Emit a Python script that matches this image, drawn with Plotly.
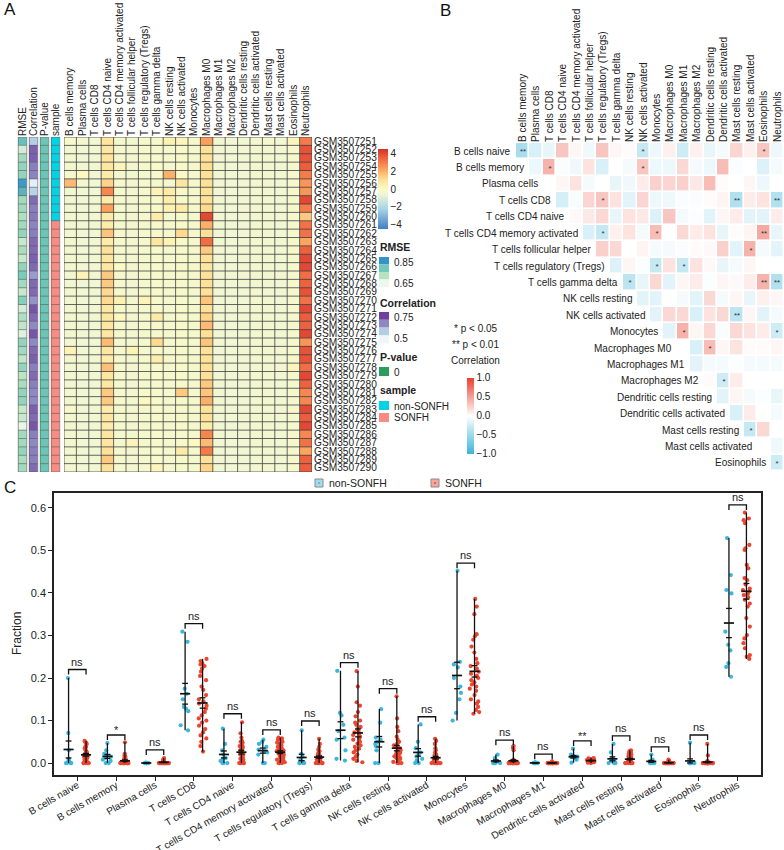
import numpy as np
import plotly.graph_objects as go

W, H = 784, 850
FONT = "Liberation Sans, Arial, sans-serif"


def fx(p):
    return p / W


def fy(p):
    return 1 - p / H


# ---------------- DATA ----------------
heat_cols = ["B cells memory", "Plasma cells", "T cells CD8", "T cells CD4 naive",
             "T cells CD4 memory activated", "T cells follicular helper",
             "T cells regulatory (Tregs)", "T cells gamma delta", "NK cells resting",
             "NK cells activated", "Monocytes", "Macrophages M0", "Macrophages M1",
             "Macrophages M2", "Dendritic cells resting", "Dendritic cells activated",
             "Mast cells resting", "Mast cells activated", "Eosinophils", "Neutrophils"]

samples = ["GSM3507251", "GSM3507252", "GSM3507253", "GSM3507254", "GSM3507255",
           "GSM3507256", "GSM3507257", "GSM3507258", "GSM3507259", "GSM3507260",
           "GSM3507261", "GSM3507262", "GSM3507263", "GSM3507264", "GSM3507265",
           "GSM3507266", "GSM3507267", "GSM3507268", "GSM3507269", "GSM3507270",
           "GSM3507271", "GSM3507272", "GSM3507273", "GSM3507274", "GSM3507275",
           "GSM3507276", "GSM3507277", "GSM3507278", "GSM3507279", "GSM3507280",
           "GSM3507281", "GSM3507282", "GSM3507283", "GSM3507284", "GSM3507285",
           "GSM3507286", "GSM3507287", "GSM3507288", "GSM3507289", "GSM3507290"]

heat_vals = [
    [-0.2, -0.4, -0.5, 0.9, -0.3, -0.4, -0.3, -0.3, 0.4, 0.2, -0.3, 2.3, -0.5, -0.5, -0.5, -0.4, -0.3, -0.5, 0.2, 3.0],
    [-0.4, -0.5, -0.5, 0.8, -0.3, -0.4, -0.3, -0.3, -0.3, -0.2, -0.3, 1.0, -0.5, -0.5, -0.5, -0.4, -0.4, -0.5, -0.3, 3.8],
    [-0.4, -0.5, -0.5, 0.9, -0.3, -0.4, -0.3, -0.2, -0.3, -0.2, -0.3, 1.0, -0.5, -0.5, -0.5, -0.4, -0.4, -0.5, -0.3, 3.8],
    [-0.4, -0.5, -0.5, 0.8, 0.2, -0.4, -0.3, -0.2, -0.3, -0.2, -0.3, 1.1, -0.5, -0.5, -0.5, -0.4, -0.4, -0.5, -0.3, 3.6],
    [-0.3, 0.1, -0.5, 0.6, -0.3, -0.4, -0.3, -0.2, 2.0, -0.1, -0.3, 1.0, -0.5, -0.5, -0.5, -0.4, -0.4, -0.5, -0.3, 3.0],
    [1.8, -0.4, -0.5, 1.3, -0.3, -0.4, -0.3, -0.3, -0.3, 0.8, -0.3, 1.0, -0.5, -0.5, -0.5, -0.4, -0.4, -0.5, -0.3, 2.5],
    [-0.4, -0.5, -0.5, 2.8, -0.3, -0.4, -0.3, 0.3, 0.6, -0.2, -0.3, 1.0, -0.5, -0.5, -0.5, -0.4, -0.4, -0.5, -0.3, 2.5],
    [-0.4, -0.5, -0.5, 0.6, -0.3, -0.4, -0.3, -0.2, 0.5, -0.2, -0.3, 1.0, -0.5, -0.5, -0.5, -0.4, -0.4, -0.5, -0.3, 4.0],
    [-0.4, -0.5, -0.5, 2.3, -0.3, -0.4, -0.3, -0.2, 0.4, 0.6, -0.3, 1.2, -0.5, -0.5, -0.5, -0.4, -0.4, -0.5, -0.3, 3.0],
    [-0.4, -0.5, -0.5, 0.6, -0.3, -0.4, -0.3, 0.6, -0.3, -0.2, -0.3, 4.0, -0.5, -0.5, -0.5, -0.4, -0.4, -0.5, -0.3, 1.5],
    [-0.4, -0.5, -0.5, 0.6, -0.3, -0.4, -0.3, -0.2, -0.3, -0.2, -0.3, 2.0, -0.5, -0.5, -0.5, -0.4, -0.4, -0.5, -0.3, 3.2],
    [-0.4, -0.5, -0.5, 1.6, -0.3, -0.4, -0.3, -0.2, -0.3, 1.2, -0.3, 1.0, -0.5, -0.5, -0.5, -0.4, -0.4, -0.5, -0.3, 3.2],
    [-0.4, -0.5, -0.5, 0.6, -0.3, -0.4, -0.3, 0.8, 0.3, -0.2, -0.3, 3.3, -0.5, -0.5, -0.5, -0.4, -0.4, -0.5, -0.3, 2.2],
    [-0.4, -0.5, -0.5, 1.0, -0.3, -0.4, -0.3, -0.2, -0.3, -0.2, -0.3, 1.5, -0.5, -0.5, -0.5, -0.4, -0.4, -0.5, -0.3, 3.5],
    [-0.4, -0.5, -0.5, 0.8, -0.3, -0.4, -0.3, -0.2, -0.3, -0.2, -0.3, 1.0, -0.5, -0.5, -0.5, -0.4, -0.4, -0.5, -0.3, 4.0],
    [-0.4, -0.5, -0.5, 0.8, 0.0, -0.4, -0.3, -0.2, -0.3, -0.2, -0.3, 0.8, -0.5, -0.5, -0.5, -0.4, -0.4, -0.5, -0.3, 4.0],
    [-0.4, 0.3, -0.5, 1.5, -0.3, -0.4, -0.3, -0.2, -0.3, -0.2, -0.3, 1.0, -0.5, -0.5, -0.5, -0.4, -0.4, -0.5, -0.3, 3.3],
    [-0.4, -0.5, -0.5, 1.5, -0.3, -0.4, -0.3, -0.2, -0.3, -0.2, -0.3, 1.0, -0.5, -0.5, -0.5, -0.4, -0.4, -0.5, -0.3, 3.5],
    [-0.4, -0.5, -0.5, 1.2, -0.3, -0.4, -0.3, -0.2, -0.3, -0.2, -0.3, 1.0, -0.5, -0.5, -0.5, -0.4, -0.4, -0.5, -0.3, 3.8],
    [-0.4, -0.5, -0.5, 1.2, 0.4, -0.4, 0.3, -0.2, -0.3, -0.2, -0.3, 1.6, -0.5, -0.5, -0.5, -0.4, -0.4, -0.5, -0.3, 3.2],
    [-0.4, -0.5, -0.5, 0.8, -0.3, -0.4, -0.3, -0.2, -0.3, -0.2, -0.3, 1.0, -0.5, -0.5, -0.5, -0.4, -0.4, -0.5, -0.3, 4.0],
    [-0.4, -0.5, -0.5, 0.8, 0.1, -0.4, -0.3, 0.6, -0.3, -0.2, -0.3, 1.3, -0.5, -0.5, -0.5, -0.4, -0.4, -0.5, -0.3, 3.6],
    [-0.4, -0.5, -0.5, 0.8, -0.3, -0.4, -0.3, -0.2, -0.3, -0.2, -0.3, 1.8, -0.5, -0.5, -0.5, -0.4, -0.4, -0.5, -0.3, 3.5],
    [-0.4, -0.5, -0.5, 0.8, -0.3, -0.4, -0.3, -0.2, -0.3, -0.2, -0.3, 1.0, -0.5, -0.5, -0.5, -0.4, -0.4, -0.5, -0.3, 4.0],
    [-0.4, -0.5, -0.5, 1.8, -0.3, -0.4, -0.3, 1.2, -0.3, -0.2, -0.3, 1.6, -0.5, -0.5, -0.5, -0.4, -0.4, -0.5, -0.3, 2.5],
    [0.3, -0.5, -0.5, 0.8, -0.3, 0.3, -0.3, -0.2, -0.3, -0.2, -0.3, 1.0, -0.5, -0.5, -0.5, -0.4, -0.4, -0.5, -0.3, 3.8],
    [-0.4, -0.5, -0.5, 0.6, -0.3, -0.4, -0.3, 0.5, -0.3, -0.2, -0.3, 1.0, -0.5, -0.5, -0.5, -0.4, -0.4, -0.5, -0.3, 3.8],
    [-0.4, -0.5, -0.5, 1.7, -0.3, -0.4, -0.3, -0.2, -0.3, -0.2, -0.3, 1.0, -0.5, -0.5, -0.5, -0.4, -0.4, -0.5, 0.2, 3.3],
    [-0.4, -0.5, -0.5, 0.8, -0.3, -0.4, -0.3, -0.2, -0.3, -0.2, -0.3, 1.0, -0.5, -0.5, -0.5, -0.4, -0.4, -0.5, -0.3, 4.0],
    [-0.4, -0.5, -0.5, 0.8, -0.3, -0.4, -0.3, -0.2, -0.3, -0.2, -0.3, 1.5, -0.5, -0.5, -0.5, -0.4, -0.4, -0.5, -0.3, 3.5],
    [-0.4, -0.5, -0.5, 1.5, -0.3, -0.4, -0.3, -0.2, -0.3, 1.5, -0.3, 1.6, -0.5, -0.5, -0.5, -0.4, -0.4, -0.5, -0.3, 2.8],
    [-0.4, -0.5, -0.5, 1.5, -0.3, -0.4, 0.1, -0.2, -0.3, -0.2, -0.3, 2.0, -0.5, -0.5, -0.5, -0.4, -0.4, -0.5, -0.3, 2.8],
    [-0.2, -0.5, -0.5, 0.6, -0.3, -0.4, -0.3, -0.2, -0.3, -0.2, -0.3, 1.0, -0.5, -0.5, -0.5, -0.4, -0.4, -0.5, -0.3, 4.0],
    [-0.4, -0.5, -0.5, 0.8, -0.3, -0.4, -0.3, -0.2, -0.3, -0.2, -0.3, 1.0, -0.5, -0.5, -0.5, -0.4, -0.4, -0.5, -0.3, 3.6],
    [-0.4, -0.5, -0.5, 0.6, -0.3, -0.4, -0.3, -0.2, -0.3, -0.2, -0.3, 0.6, -0.5, -0.5, -0.5, -0.4, -0.4, -0.5, -0.3, 4.0],
    [-0.4, -0.5, -0.5, 0.8, -0.3, -0.4, -0.3, -0.2, -0.3, -0.2, -0.3, 2.8, -0.5, -0.5, -0.5, -0.4, -0.4, -0.5, -0.3, 2.8],
    [-0.4, -0.5, -0.5, 0.8, -0.3, 0.2, -0.3, -0.2, -0.3, -0.2, 0.1, 1.8, -0.5, -0.5, -0.5, -0.4, -0.4, -0.5, -0.3, 3.2],
    [-0.4, -0.5, -0.5, 1.0, -0.3, -0.4, -0.3, -0.2, -0.3, 0.6, -0.3, 3.0, -0.5, -0.5, -0.5, -0.4, -0.4, -0.5, -0.3, 2.2],
    [-0.4, -0.5, -0.5, 1.5, -0.3, -0.4, -0.3, -0.2, -0.3, -0.2, -0.3, 1.0, -0.5, -0.5, -0.5, -0.4, -0.4, -0.5, -0.3, 3.5],
    [-0.4, -0.5, -0.5, 1.0, -0.3, -0.4, -0.3, 0.2, -0.3, -0.2, -0.3, 1.3, -0.5, -0.5, -0.5, -0.4, -0.4, -0.5, -0.3, 3.6],
]

rmse_vals = [0.78, 0.60, 0.68, 0.70, 0.70, 0.90, 0.82, 0.68, 0.68, 0.66,
             0.68, 0.70, 0.62, 0.67, 0.62, 0.70, 0.74, 0.68, 0.62, 0.72,
             0.60, 0.66, 0.63, 0.58, 0.70, 0.68, 0.63, 0.70, 0.64, 0.67,
             0.70, 0.70, 0.62, 0.62, 0.56, 0.68, 0.68, 0.70, 0.67, 0.68]
fit_corr_vals = [0.60, 0.82, 0.82, 0.76, 0.75, 0.45, 0.58, 0.80, 0.76, 0.77,
                 0.75, 0.76, 0.80, 0.80, 0.82, 0.80, 0.70, 0.80, 0.80, 0.72,
                 0.84, 0.80, 0.74, 0.84, 0.74, 0.80, 0.82, 0.76, 0.80, 0.76,
                 0.74, 0.74, 0.82, 0.80, 0.84, 0.76, 0.74, 0.76, 0.76, 0.80]
pvalue_vals = [0, 0, 0, 0, 0, 0, 0, 0, 0, 0, 0, 0, 0, 0, 0, 0, 0, 0, 0, 0,
               0, 0, 0, 0, 0, 0, 0, 0, 0, 0, 0, 0, 0, 0, 0, 0, 0, 0, 0, 0]
sample_group = ["non-SONFH"] * 10 + ["SONFH"] * 30
anno_cols = ["RMSE", "Correlation", "P-value", "sample"]

# Panel B: correlation among immune cells (upper triangle, row i vs columns i..19)
corr_rows = ["B cells naive", "B cells memory", "Plasma cells", "T cells CD8",
             "T cells CD4 naive", "T cells CD4 memory activated", "T cells follicular helper",
             "T cells regulatory (Tregs)", "T cells gamma delta", "NK cells resting",
             "NK cells activated", "Monocytes", "Macrophages M0", "Macrophages M1",
             "Macrophages M2", "Dendritic cells resting", "Dendritic cells activated",
             "Mast cells resting", "Mast cells activated", "Eosinophils"]
corr_cols = heat_cols
corr_vals = [
    [-0.45, -0.2, -0.12, 0.3, 0.05, -0.08, 0.3, 0.05, 0.02, -0.3, -0.1, 0.08, -0.25, 0.08, -0.12, -0.05, 0.22, 0.08, 0.3, -0.1],
    [-0.1, 0.4, -0.03, -0.08, 0.15, -0.2, 0.0, -0.05, 0.3, -0.1, -0.1, 0.2, -0.05, -0.1, 0.35, -0.03, 0.0, -0.18, -0.05],
    [0.0, 0.05, 0.15, -0.05, 0.0, -0.12, -0.08, 0.1, 0.25, 0.22, 0.25, 0.12, 0.35, 0.02, 0.0, 0.05, -0.1, 0.0],
    [-0.22, -0.04, 0.22, 0.3, 0.15, -0.15, 0.22, -0.1, -0.08, -0.03, -0.03, 0.02, 0.06, -0.4, 0.1, 0.15, -0.4],
    [0.03, 0.12, 0.2, -0.12, 0.15, 0.12, -0.18, 0.3, -0.05, -0.02, -0.15, 0.05, 0.1, -0.15, -0.15, 0.1],
    [-0.2, -0.3, 0.08, 0.15, -0.05, 0.35, 0.0, 0.2, 0.1, 0.15, -0.12, 0.02, 0.06, 0.45, -0.12],
    [0.25, 0.2, 0.0, 0.06, -0.05, -0.05, -0.03, 0.02, 0.03, 0.25, -0.15, 0.4, -0.05, -0.15],
    [-0.18, 0.05, -0.02, -0.3, 0.15, -0.3, 0.15, 0.03, -0.12, -0.05, 0.05, 0.0, 0.0],
    [-0.35, -0.12, 0.2, -0.15, 0.05, 0.1, -0.02, 0.05, 0.03, 0.1, 0.4, -0.4],
    [-0.15, -0.15, 0.0, -0.05, -0.15, 0.2, -0.05, 0.05, -0.12, 0.08, 0.05],
    [-0.15, 0.2, 0.2, -0.2, 0.15, 0.2, -0.35, 0.05, -0.15, -0.05],
    [-0.15, 0.4, 0.05, 0.2, -0.03, 0.2, 0.15, 0.1, -0.25],
    [0.0, -0.2, 0.35, 0.05, 0.15, 0.02, 0.02, 0.05],
    [-0.15, -0.05, -0.05, -0.02, -0.05, -0.05, -0.05],
    [0.02, -0.25, 0.1, 0.0, 0.0, 0.0],
    [-0.15, 0.05, -0.05, -0.02, -0.12],
    [-0.2, 0.1, 0.0, -0.05],
    [-0.3, 0.2, 0.0],
    [0.0, -0.08],
    [-0.25],
]
# (row index, column index, significance label)
corr_stars = [(0, 0, "**"), (0, 9, "*"), (0, 18, "*"), (1, 2, "*"), (1, 9, "*"),
              (3, 6, "*"), (3, 16, "**"), (3, 19, "**"), (5, 6, "*"), (5, 10, "*"),
              (5, 18, "**"), (6, 17, "*"), (7, 10, "*"), (7, 12, "*"), (8, 8, "*"),
              (8, 18, "**"), (8, 19, "**"), (10, 16, "**"), (11, 12, "*"), (11, 19, "*"),
              (12, 14, "*"), (14, 15, "*"), (17, 17, "*"), (19, 19, "*")]

# Panel C: fractions per cell type
c_cats = ["B cells naive", "B cells memory", "Plasma cells", "T cells CD8", "T cells CD4 naive",
          "T cells CD4 memory activated", "T cells regulatory (Tregs)", "T cells gamma delta",
          "NK cells resting", "NK cells activated", "Monocytes", "Macrophages M0",
          "Macrophages M1", "Dendritic cells activated", "Mast cells resting",
          "Mast cells activated", "Eosinophils", "Neutrophils"]

non_sonfh = [
    [0.200, 0.071, 0.030, 0.010, 0.005, 0.0, 0.0, 0.0, 0.0, 0.004],
    [0.047, 0.030, 0.022, 0.018, 0.015, 0.012, 0.008, 0.005, 0.0, 0.0],
    [0.001, 0.0005, 0.0, 0.0, 0.0, 0.0, 0.0, 0.0, 0.0, 0.0],
    [0.309, 0.285, 0.175, 0.163, 0.150, 0.132, 0.128, 0.122, 0.089, 0.077],
    [0.081, 0.045, 0.030, 0.020, 0.012, 0.010, 0.005, 0.0, 0.0, 0.0],
    [0.055, 0.050, 0.045, 0.038, 0.032, 0.028, 0.025, 0.020, 0.0, 0.0],
    [0.077, 0.022, 0.015, 0.010, 0.005, 0.003, 0.0, 0.0, 0.0, 0.0],
    [0.217, 0.118, 0.112, 0.090, 0.075, 0.060, 0.055, 0.030, 0.010, 0.006],
    [0.127, 0.095, 0.060, 0.055, 0.050, 0.045, 0.040, 0.030, 0.0, 0.0],
    [0.091, 0.050, 0.035, 0.025, 0.020, 0.015, 0.010, 0.005, 0.0, 0.0],
    [0.452, 0.238, 0.232, 0.225, 0.200, 0.180, 0.165, 0.150, 0.118, 0.100],
    [0.020, 0.012, 0.008, 0.006, 0.004, 0.0, 0.0, 0.0, 0.0, 0.0],
    [0.002, 0.001, 0.001, 0.0, 0.0, 0.0, 0.0, 0.0, 0.0, 0.0],
    [0.034, 0.020, 0.017, 0.016, 0.015, 0.014, 0.013, 0.012, 0.008, 0.001],
    [0.045, 0.025, 0.012, 0.008, 0.005, 0.004, 0.001, 0.0, 0.0, 0.0],
    [0.020, 0.008, 0.006, 0.004, 0.002, 0.0, 0.0, 0.0, 0.0, 0.0],
    [0.048, 0.003, 0.0, 0.0, 0.0, 0.0, 0.0, 0.0, 0.0, 0.0],
    [0.529, 0.442, 0.407, 0.399, 0.309, 0.278, 0.265, 0.235, 0.226, 0.203],
]

sonfh = [
    [0.052, 0.050, 0.048, 0.045, 0.040, 0.038, 0.035, 0.030, 0.028, 0.025, 0.022, 0.020, 0.018, 0.015, 0.013,
     0.012, 0.010, 0.008, 0.006, 0.005, 0.003, 0.0, 0.0, 0.0, 0.0, 0.0, 0.0, 0.020, 0.025, 0.016],
    [0.049, 0.022, 0.018, 0.015, 0.012, 0.010, 0.008, 0.007, 0.006, 0.005, 0.004, 0.003, 0.002, 0.002, 0.001,
     0.0, 0.0, 0.0, 0.0, 0.0, 0.0, 0.0, 0.0, 0.0, 0.0, 0.0, 0.0, 0.0, 0.0, 0.0],
    [0.012, 0.010, 0.009, 0.007, 0.005, 0.004, 0.003, 0.002, 0.002, 0.001, 0.001, 0.0, 0.0, 0.0, 0.0,
     0.0, 0.0, 0.0, 0.0, 0.0, 0.0, 0.0, 0.0, 0.0, 0.0, 0.0, 0.0, 0.0, 0.0, 0.0],
    [0.245, 0.240, 0.235, 0.232, 0.228, 0.222, 0.215, 0.205, 0.195, 0.180, 0.172, 0.160, 0.150, 0.145, 0.140,
     0.135, 0.128, 0.120, 0.112, 0.105, 0.100, 0.095, 0.088, 0.080, 0.072, 0.065, 0.058, 0.050, 0.040, 0.027],
    [0.096, 0.070, 0.060, 0.052, 0.050, 0.048, 0.045, 0.040, 0.038, 0.035, 0.032, 0.030, 0.028, 0.025, 0.022,
     0.020, 0.018, 0.015, 0.012, 0.010, 0.008, 0.006, 0.005, 0.004, 0.002, 0.0, 0.0, 0.0, 0.0, 0.0],
    [0.060, 0.058, 0.055, 0.050, 0.048, 0.045, 0.042, 0.040, 0.038, 0.035, 0.033, 0.030, 0.028, 0.027, 0.025,
     0.024, 0.022, 0.020, 0.018, 0.016, 0.014, 0.012, 0.010, 0.008, 0.006, 0.004, 0.002, 0.0, 0.0, 0.0],
    [0.057, 0.045, 0.038, 0.032, 0.028, 0.025, 0.022, 0.020, 0.018, 0.016, 0.015, 0.014, 0.013, 0.012, 0.011,
     0.010, 0.009, 0.008, 0.007, 0.006, 0.005, 0.004, 0.003, 0.002, 0.001, 0.0, 0.0, 0.0, 0.0, 0.0],
    [0.216, 0.180, 0.143, 0.135, 0.120, 0.110, 0.100, 0.095, 0.090, 0.085, 0.080, 0.076, 0.072, 0.070, 0.066,
     0.062, 0.058, 0.055, 0.050, 0.046, 0.042, 0.038, 0.034, 0.030, 0.025, 0.020, 0.015, 0.010, 0.005, 0.002],
    [0.157, 0.105, 0.085, 0.075, 0.062, 0.055, 0.050, 0.045, 0.042, 0.040, 0.038, 0.035, 0.032, 0.030, 0.028,
     0.026, 0.024, 0.022, 0.020, 0.018, 0.016, 0.014, 0.012, 0.010, 0.008, 0.005, 0.003, 0.0, 0.0, 0.0],
    [0.057, 0.052, 0.045, 0.035, 0.030, 0.025, 0.020, 0.018, 0.016, 0.014, 0.012, 0.010, 0.009, 0.008, 0.007,
     0.006, 0.005, 0.004, 0.003, 0.002, 0.001, 0.0, 0.0, 0.0, 0.0, 0.0, 0.0, 0.0, 0.0, 0.0],
    [0.386, 0.368, 0.350, 0.303, 0.298, 0.290, 0.274, 0.260, 0.245, 0.235, 0.228, 0.222, 0.215, 0.210, 0.205,
     0.200, 0.195, 0.190, 0.185, 0.180, 0.175, 0.170, 0.160, 0.150, 0.145, 0.140, 0.132, 0.125, 0.120, 0.116],
    [0.040, 0.038, 0.035, 0.030, 0.008, 0.005, 0.004, 0.003, 0.002, 0.001, 0.0, 0.0, 0.0, 0.0, 0.0,
     0.0, 0.0, 0.0, 0.0, 0.0, 0.0, 0.0, 0.0, 0.0, 0.0, 0.0, 0.0, 0.0, 0.0, 0.0],
    [0.004, 0.003, 0.002, 0.001, 0.001, 0.0, 0.0, 0.0, 0.0, 0.0, 0.0, 0.0, 0.0, 0.0, 0.0,
     0.0, 0.0, 0.0, 0.0, 0.0, 0.0, 0.0, 0.0, 0.0, 0.0, 0.0, 0.0, 0.0, 0.0, 0.0],
    [0.012, 0.011, 0.010, 0.010, 0.009, 0.009, 0.008, 0.008, 0.008, 0.007, 0.007, 0.007, 0.006, 0.006, 0.006,
     0.006, 0.005, 0.005, 0.005, 0.005, 0.004, 0.004, 0.004, 0.003, 0.003, 0.003, 0.002, 0.002, 0.001, 0.0],
    [0.030, 0.028, 0.025, 0.022, 0.020, 0.018, 0.016, 0.015, 0.014, 0.013, 0.012, 0.011, 0.010, 0.009, 0.008,
     0.007, 0.006, 0.005, 0.004, 0.003, 0.002, 0.001, 0.0, 0.0, 0.0, 0.0, 0.0, 0.0, 0.0, 0.0],
    [0.008, 0.006, 0.004, 0.003, 0.002, 0.001, 0.0, 0.0, 0.0, 0.0, 0.0, 0.0, 0.0, 0.0, 0.0,
     0.0, 0.0, 0.0, 0.0, 0.0, 0.0, 0.0, 0.0, 0.0, 0.0, 0.0, 0.0, 0.0, 0.0, 0.0],
    [0.045, 0.018, 0.005, 0.002, 0.001, 0.0, 0.0, 0.0, 0.0, 0.0, 0.0, 0.0, 0.0, 0.0, 0.0,
     0.0, 0.0, 0.0, 0.0, 0.0, 0.0, 0.0, 0.0, 0.0, 0.0, 0.0, 0.0, 0.0, 0.0, 0.0],
    [0.589, 0.575, 0.571, 0.564, 0.513, 0.505, 0.501, 0.466, 0.458, 0.435, 0.430, 0.420, 0.410, 0.407, 0.404,
     0.399, 0.395, 0.390, 0.384, 0.375, 0.368, 0.341, 0.321, 0.301, 0.293, 0.282, 0.270, 0.254, 0.250, 0.245],
]

bracket_y = [0.22, 0.066, 0.031, 0.328, 0.116, 0.078, 0.099, 0.236, 0.175, 0.109,
             0.47, 0.054, 0.021, 0.052, 0.064, 0.038, 0.066, 0.607]
sig_labels = ["ns", "*", "ns", "ns", "ns", "ns", "ns", "ns", "ns", "ns",
              "ns", "ns", "ns", "**", "ns", "ns", "ns", "ns"]

# ---------------- STYLE ----------------
heat_cs = [[0.0, "#3f7fc0"], [0.25, "#a9d3e7"], [0.44, "#f0f6d4"], [0.5, "#fcfac4"],
           [0.62, "#fedf95"], [0.74, "#fca760"], [0.87, "#f26a43"], [1.0, "#d62f27"]]
rmse_cs = [[0.0, "#eef8ea"], [0.27, "#b5e2bf"], [0.54, "#72c9b9"], [1.0, "#3494c8"]]
fitc_cs = [[0.0, "#eef6fb"], [0.4, "#b3cde6"], [0.7, "#8e87c3"], [1.0, "#7040a0"]]
pval_color = "#6cc6b6"
non_color_s, son_color_s = "#00d3e3", "#f98b83"
corr_cs = [[0.0, "#3cb4d8"], [0.5, "#ffffff"], [1.0, "#e8412f"]]
NON_C, SON_C = "#3bb6dd", "#ec4630"
GRID = "#404040"
TXT = "#222"
LBL = 10  # label font size used in panels A and B

fig = go.Figure()

# ---------- Panel A: main heatmap ----------
nR, nC = len(samples), len(heat_cols)
fig.add_trace(go.Heatmap(
    z=heat_vals, x=list(range(nC)), y=list(range(nR)), colorscale=heat_cs,
    zmin=-4.5, zmax=4.5, xaxis="x", yaxis="y", hoverinfo="skip",
    colorbar=dict(x=fx(378), xanchor="left", y=fy(189), yanchor="middle",
                  lenmode="pixels", len=80, thickness=10, xpad=0, ypad=0,
                  outlinewidth=0, ticks="", tickvals=[-4, -2, 0, 2, 4],
                  ticktext=["\u22124", "\u22122", "0", "2", "4"],
                  tickfont=dict(size=LBL, family=FONT, color=TXT))))
gx, gy = [], []
for k in range(nC + 1):
    gx += [k - 0.5, k - 0.5, None]
    gy += [-0.5, nR - 0.5, None]
for r in range(nR + 1):
    gx += [-0.5, nC - 0.5, None]
    gy += [r - 0.5, r - 0.5, None]
fig.add_trace(go.Scatter(x=gx, y=gy, mode="lines", line=dict(color=GRID, width=0.8),
                         xaxis="x", yaxis="y", hoverinfo="skip", showlegend=False))

# annotation columns
sample_code = [0 if g == "non-SONFH" else 1 for g in sample_group]
anno_specs = [
    (rmse_vals, rmse_cs, 0.55, 0.92),
    (fit_corr_vals, fitc_cs, 0.42, 0.88),
    (pvalue_vals, [[0, pval_color], [1, pval_color]], 0, 1),
    (sample_code, [[0, non_color_s], [0.5, non_color_s], [0.5, son_color_s], [1, son_color_s]], 0, 1),
]
for k, (vals, cs, lo, hi) in enumerate(anno_specs):
    fig.add_trace(go.Heatmap(z=[[v] for v in vals], x0=k, dx=1, y=list(range(nR)),
                             colorscale=cs, zmin=lo, zmax=hi, showscale=False, xgap=2.4,
                             xaxis="x2", yaxis="y2", hoverinfo="skip"))
ax, ay = [], []
hw = 0.385
for k in range(4):
    ax += [k - hw, k - hw, None, k + hw, k + hw, None]
    ay += [-0.5, nR - 0.5, None, -0.5, nR - 0.5, None]
    for r in range(nR + 1):
        ax += [k - hw, k + hw, None]
        ay += [r - 0.5, r - 0.5, None]
fig.add_trace(go.Scatter(x=ax, y=ay, mode="lines", line=dict(color="#5a5a5a", width=0.6),
                         xaxis="x2", yaxis="y2", hoverinfo="skip", showlegend=False))

# ---------- Panel B: correlation matrix ----------
nB = len(corr_rows)
zB = [[None] * nB for _ in range(nB)]
tB = [[""] * nB for _ in range(nB)]
for i, row in enumerate(corr_vals):
    for j, v in enumerate(row):
        zB[i][i + j] = v
for (i, j, s) in corr_stars:
    tB[i][j] = s
fig.add_trace(go.Heatmap(
    z=zB, x=list(range(nB)), y=list(range(nB)), text=tB, texttemplate="%{text}",
    textfont=dict(size=8, color="#333", family=FONT),
    colorscale=corr_cs, zmin=-1, zmax=1, xgap=1.6, ygap=1.6, xaxis="x3", yaxis="y3",
    hoverinfo="skip",
    colorbar=dict(x=fx(467), xanchor="left", y=fy(415.5), yanchor="middle",
                  lenmode="pixels", len=76, thickness=7, xpad=0, ypad=0,
                  outlinewidth=0, ticks="", tickvals=[1, 0.5, 0, -0.5, -1],
                  ticktext=["1.0", "0.5", "0.0", "\u22120.5", "\u22121.0"],
                  tickfont=dict(size=LBL, family=FONT, color=TXT))))

# ---------- Panel C: dot plots ----------
xs_n, ys_n, xs_s, ys_s = [], [], [], []
for k in range(len(c_cats)):
    xs_n += [k] * len(non_sonfh[k])
    ys_n += non_sonfh[k]
    xs_s += [k] * len(sonfh[k])
    ys_s += sonfh[k]
for name, xs, ys, col in [("non-SONFH", xs_n, ys_n, NON_C), ("SONFH", xs_s, ys_s, SON_C)]:
    fig.add_trace(go.Box(x=xs, y=ys, name=name, boxpoints="all", jitter=0.75, pointpos=0,
                         line=dict(width=0, color="rgba(0,0,0,0)"), fillcolor="rgba(0,0,0,0)",
                         marker=dict(color=col, size=4.2), whiskerwidth=0,
                         xaxis="x4", yaxis="y4", hoverinfo="y", showlegend=False))

OFF = 0.225
lx, ly, mx_, my_ = [], [], [], []
for k in range(len(c_cats)):
    for arr, off in [(non_sonfh[k], -OFF), (sonfh[k], OFF)]:
        a = np.array(arr)
        xc = k + off
        m = a.mean()
        se = a.std(ddof=1) / np.sqrt(len(a))
        lx += [xc, xc, None]
        ly += [a.min(), a.max(), None]
        lx += [xc - 0.075, xc + 0.075, None, xc - 0.075, xc + 0.075, None]
        ly += [m - se, m - se, None, m + se, m + se, None]
        mx_ += [xc - 0.13, xc + 0.13, None]
        my_ += [m, m, None]
fig.add_trace(go.Scatter(x=lx, y=ly, mode="lines", line=dict(color="#111", width=1.3),
                         xaxis="x4", yaxis="y4", hoverinfo="skip", showlegend=False))
fig.add_trace(go.Scatter(x=mx_, y=my_, mode="lines", line=dict(color="#111", width=1.7),
                         xaxis="x4", yaxis="y4", hoverinfo="skip", showlegend=False))
bx, by = [], []
TK = 0.012
for k, yb in enumerate(bracket_y):
    bx += [k - OFF, k - OFF, k + OFF, k + OFF, None]
    by += [yb - TK, yb, yb, yb - TK, None]
fig.add_trace(go.Scatter(x=bx, y=by, mode="lines", line=dict(color="#111", width=1.3),
                         xaxis="x4", yaxis="y4", hoverinfo="skip", showlegend=False))

annotations = []
for k, (yb, s) in enumerate(zip(bracket_y, sig_labels)):
    annotations.append(dict(x=k, y=yb, xref="x4", yref="y4", text=s, showarrow=False,
                            yanchor="bottom", yshift=0 if s == "ns" else -3,
                            font=dict(size=11, family=FONT, color=TXT)))

# Panel A sample labels (right of heatmap)
for r, s in enumerate(samples):
    annotations.append(dict(x=fx(312), y=r, xref="paper", yref="y", text=s, showarrow=False,
                            xanchor="left", yanchor="middle", xshift=0,
                            font=dict(size=10.2, family=FONT, color=TXT)))

# Panel B row labels (staircase)
for i, name in enumerate(corr_rows):
    annotations.append(dict(x=i - 0.5, y=i, xref="x3", yref="y3", text=name, showarrow=False,
                            xanchor="right", yanchor="middle", xshift=-3,
                            font=dict(size=LBL, family=FONT, color=TXT)))

# panel letters
for txt, px_, py_ in [("A", 2, 10), ("B", 438, 11), ("C", 2, 487)]:
    annotations.append(dict(x=fx(px_), y=fy(py_), xref="paper", yref="paper", text=txt,
                            showarrow=False, xanchor="left", yanchor="middle",
                            font=dict(size=17, family=FONT, color="#111")))


def ptext(txt, x, y, size=LBL, bold=False, anchor="left"):
    annotations.append(dict(x=fx(x), y=fy(y), xref="paper", yref="paper",
                            text=("<b>%s</b>" % txt) if bold else txt, showarrow=False,
                            xanchor=anchor, yanchor="middle",
                            font=dict(size=size, family=FONT, color=TXT)))


shapes = []


def prect(x0, y0, x1, y1, fill, line="rgba(0,0,0,0)", lw=0):
    shapes.append(dict(type="rect", xref="paper", yref="paper", x0=fx(x0), x1=fx(x1),
                       y0=fy(y1), y1=fy(y0), fillcolor=fill, line=dict(color=line, width=lw)))


# Panel A legend blocks
ptext("RMSE", 378, 247, bold=True, size=10.5)
for i, c in enumerate(["#3494c8", "#72c9b9", "#b5e2bf", "#eef8ea"]):
    prect(379, 257 + 7.5 * i, 389, 257 + 7.5 * (i + 1), c)
ptext("0.85", 392, 262)
ptext("0.65", 392, 283)
ptext("Correlation", 378, 303, bold=True, size=10.5)
for i, c in enumerate(["#7040a0", "#8e87c3", "#b3cde6", "#eef6fb"]):
    prect(379, 312 + 7.8 * i, 389, 312 + 7.8 * (i + 1), c)
ptext("0.75", 392, 317)
ptext("0.5", 392, 338)
ptext("P-value", 378, 357, bold=True, size=10.5)
prect(379, 367, 389, 376, "#2a9d5c")
ptext("0", 392, 372)
ptext("sample", 378, 390, bold=True, size=10.5)
prect(379, 401, 389, 410, non_color_s)
prect(379, 413, 389, 422, son_color_s)
ptext("non-SONFH", 392, 406)
ptext("SONFH", 392, 418)

# Panel B legend text
ptext("* p < 0.05", 476, 328, anchor="center")
ptext("** p < 0.01", 476, 344, anchor="center")
ptext("Correlation", 476, 360, anchor="center")

# Panel C legend
for x0, fill, dot, label in [(315, "#a6dbeb", NON_C, "non-SONFH"), (431, "#f4a79c", SON_C, "SONFH")]:
    prect(x0, 479, x0 + 8, 487, fill, line="#8a8a8a", lw=1)
    shapes.append(dict(type="circle", xref="paper", yref="paper", x0=fx(x0 + 3), x1=fx(x0 + 5),
                       y0=fy(484), y1=fy(482), fillcolor=dot, line=dict(width=0)))
    ptext(label, x0 + 12, 483, size=10.5)

# y title for C
annotations.append(dict(x=fx(17), y=fy(634), xref="paper", yref="paper", text="Fraction",
                        showarrow=False, textangle=-90, xanchor="center", yanchor="middle",
                        font=dict(size=12, family=FONT, color=TXT)))

axis_common = dict(showgrid=False, zeroline=False, showline=False)
fig.update_layout(
    width=W, height=H, margin=dict(l=0, r=0, t=0, b=0, pad=0),
    paper_bgcolor="white", plot_bgcolor="white", template="none",
    font=dict(family=FONT, color=TXT),
    boxmode="group", boxgap=0.1, boxgroupgap=0.2, showlegend=False,
    xaxis=dict(domain=[fx(64), fx(312)], range=[-0.5, nC - 0.5], side="top", tickangle=-90,
               tickvals=list(range(nC)), ticktext=heat_cols, ticks="", anchor="y",
               tickfont=dict(size=LBL, family=FONT, color=TXT), **axis_common),
    yaxis=dict(domain=[fy(472), fy(137)], range=[nR - 0.5, -0.5], showticklabels=False,
               ticks="", anchor="x", **axis_common),
    xaxis2=dict(domain=[fx(17), fx(61)], range=[-0.5, 3.5], side="top", tickangle=-90,
                tickvals=[0, 1, 2, 3], ticktext=anno_cols, ticks="", anchor="y2",
                tickfont=dict(size=LBL, family=FONT, color=TXT), **axis_common),
    yaxis2=dict(domain=[fy(472), fy(137)], range=[nR - 0.5, -0.5], showticklabels=False,
                ticks="", anchor="x2", **axis_common),
    xaxis3=dict(domain=[fx(516), 1.0], range=[-0.5, nB - 0.5], side="top", tickangle=-90,
                tickvals=list(range(nB)), ticktext=corr_cols, ticks="", anchor="y3",
                tickfont=dict(size=LBL, family=FONT, color=TXT), **axis_common),
    yaxis3=dict(domain=[fy(471), fy(143)], range=[nB - 0.5, -0.5], showticklabels=False,
                ticks="", anchor="x3", **axis_common),
    xaxis4=dict(domain=[fx(54), fx(761)], range=[-0.6, 17.6], tickvals=list(range(len(c_cats))),
                ticktext=c_cats, tickangle=-30, ticks="outside", ticklen=4, tickwidth=1.3,
                tickcolor=TXT, showline=True, linecolor=TXT, linewidth=1.5, mirror=True,
                showgrid=False, zeroline=False, anchor="y4", ticklabelstandoff=-5,
                tickfont=dict(size=10, family=FONT, color=TXT)),
    yaxis4=dict(domain=[fy(775), fy(493)], range=[-0.028, 0.635],
                tickvals=[0, 0.1, 0.2, 0.3, 0.4, 0.5, 0.6], tickformat=".1f", ticks="outside",
                ticklen=4, tickwidth=1.3, tickcolor=TXT, showline=True, linecolor=TXT,
                linewidth=1.5, mirror=True, showgrid=False, zeroline=False, anchor="x4",
                tickfont=dict(size=11, family=FONT, color=TXT)),
    annotations=annotations, shapes=shapes,
)

fig.write_html("out.html", config={"displayModeBar": False},
               post_script="document.body.style.margin='0';document.body.style.overflow='hidden';")
